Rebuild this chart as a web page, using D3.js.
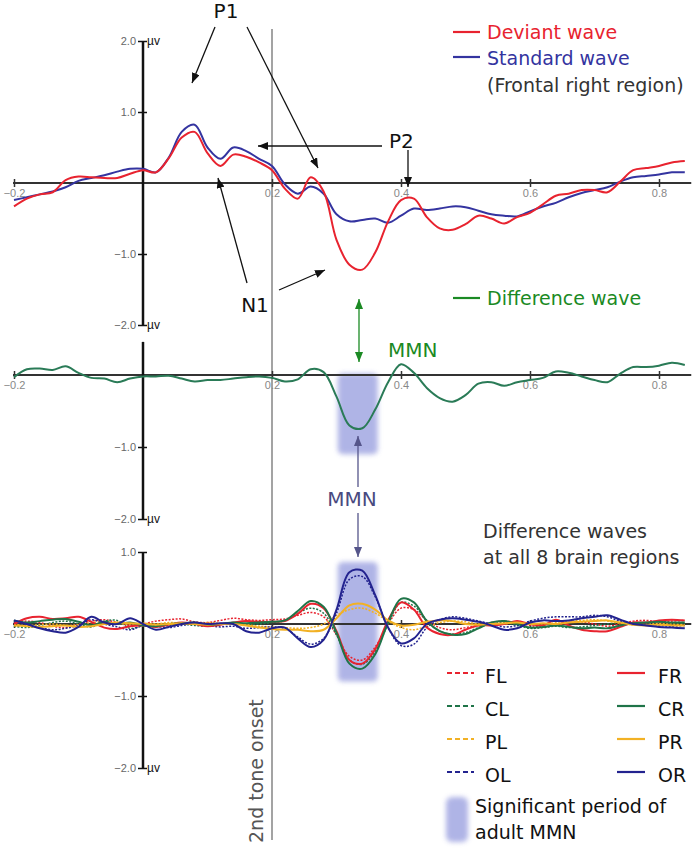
<!DOCTYPE html>
<html>
<head>
<meta charset="utf-8">
<script src="https://cdn.jsdelivr.net/npm/d3@7"></script>
<style>
body { margin: 0; background: #fff; }
</style>
</head>
<body>
<div id="chart"></div>
<script>
// time points (s), shared by every wave
const times = [-0.20,-0.18,-0.16,-0.14,-0.12,-0.10,-0.08,-0.06,-0.04,-0.02,
  0.00,0.02,0.04,0.06,0.08,0.10,0.12,0.14,0.16,0.18,
  0.20,0.22,0.24,0.26,0.28,0.30,0.32,0.34,0.36,0.38,
  0.40,0.42,0.44,0.46,0.48,0.50,0.52,0.54,0.56,0.58,
  0.60,0.62,0.64,0.66,0.68,0.70,0.72,0.74,0.76,0.78,
  0.80,0.82,0.84];

// top panel: frontal right region (µV)
const deviantWave = [-0.33,-0.22,-0.16,-0.13,0.04,0.09,0.08,0.07,0.07,0.13,
  0.18,0.15,0.35,0.64,0.72,0.42,0.24,0.40,0.37,0.29,
  0.18,-0.08,-0.22,0.08,-0.12,-0.80,-1.15,-1.22,-0.98,-0.54,
  -0.24,-0.22,-0.48,-0.64,-0.66,-0.58,-0.46,-0.50,-0.57,-0.48,
  -0.42,-0.30,-0.18,-0.15,-0.10,-0.10,-0.13,0.02,0.18,0.21,
  0.24,0.29,0.31];
const standardWave = [-0.24,-0.20,-0.16,-0.12,-0.06,0.03,0.07,0.11,0.16,0.20,
  0.20,0.15,0.36,0.72,0.82,0.50,0.34,0.50,0.45,0.34,
  0.24,-0.02,-0.15,-0.05,-0.15,-0.44,-0.54,-0.52,-0.50,-0.56,
  -0.46,-0.36,-0.38,-0.36,-0.33,-0.34,-0.39,-0.44,-0.46,-0.47,
  -0.40,-0.33,-0.28,-0.20,-0.14,-0.10,-0.06,0.02,0.08,0.10,
  0.12,0.15,0.15];

// middle panel
const differenceWave = [-0.03,0.08,0.09,0.07,0.12,0.03,-0.04,-0.05,-0.10,-0.05,
  -0.02,-0.02,-0.01,-0.05,-0.09,-0.07,-0.07,-0.05,-0.03,-0.02,
  -0.04,-0.09,-0.06,0.08,0.04,-0.30,-0.70,-0.74,-0.48,-0.10,
  0.15,0.03,-0.18,-0.32,-0.37,-0.28,-0.12,-0.10,-0.15,-0.10,
  -0.07,-0.04,0.05,0.03,-0.02,-0.07,-0.10,0.02,0.11,0.11,
  0.13,0.17,0.14];

// bottom panel: difference waves of the 8 regions
const regionFR = [0.00,0.08,0.10,0.07,0.08,0.10,0.03,-0.05,-0.07,-0.03,
  -0.02,-0.04,-0.01,0.02,0.00,-0.03,-0.01,0.02,0.04,0.03,
  0.03,0.04,0.14,0.28,0.22,-0.10,-0.50,-0.55,-0.35,0.05,
  0.30,0.20,-0.05,-0.14,-0.15,-0.08,-0.02,-0.02,0.00,0.04,
  0.00,-0.02,0.06,-0.02,-0.08,-0.10,-0.10,-0.04,0.02,0.02,
  0.05,0.06,0.05];
const regionCR = [0.05,0.02,0.04,0.06,0.07,0.03,-0.02,0.03,0.00,0.02,
  -0.02,-0.03,0.00,0.01,0.02,-0.01,0.00,0.02,0.01,0.02,
  0.03,0.05,0.18,0.32,0.24,-0.12,-0.55,-0.62,-0.42,0.02,
  0.35,0.30,0.04,-0.10,-0.15,-0.14,-0.06,0.02,0.04,0.00,
  -0.05,-0.04,-0.02,-0.04,-0.06,-0.05,-0.06,-0.02,0.01,0.02,
  0.03,0.02,0.02];
const regionPR = [-0.02,-0.03,-0.04,-0.03,-0.02,-0.04,-0.03,0.00,0.02,0.01,
  0.00,-0.01,0.00,0.01,0.00,-0.01,0.00,0.00,-0.02,-0.05,
  -0.07,-0.08,-0.08,-0.10,-0.08,0.08,0.26,0.28,0.20,0.05,
  -0.02,-0.01,0.03,0.05,0.04,0.00,-0.01,0.00,0.01,0.02,
  0.00,0.01,0.00,0.02,0.03,0.04,0.05,0.02,-0.01,-0.02,
  -0.01,-0.02,-0.02];
const regionOR = [0.05,0.00,-0.06,-0.10,-0.12,-0.04,0.10,0.02,0.00,0.08,
  0.00,-0.08,-0.04,0.00,0.02,0.00,0.01,0.00,-0.10,-0.12,
  -0.06,-0.05,-0.20,-0.32,-0.22,0.20,0.72,0.74,0.40,-0.05,
  -0.27,-0.20,0.00,0.06,0.08,0.06,0.03,-0.02,-0.08,-0.06,
  0.02,0.05,0.04,0.05,0.08,0.10,0.12,0.06,0.00,-0.02,
  -0.04,-0.05,-0.06];
const regionFL = [0.02,0.04,0.02,-0.03,-0.05,0.00,0.04,0.06,0.02,-0.02,
  0.00,0.04,0.06,0.07,0.03,0.02,0.05,0.08,0.06,0.05,
  0.06,0.07,0.12,0.16,0.10,-0.15,-0.45,-0.50,-0.32,0.00,
  0.22,0.20,0.05,-0.05,-0.08,-0.05,-0.02,0.02,0.04,0.02,
  -0.02,-0.04,-0.02,0.02,0.03,0.00,-0.03,0.00,0.04,0.05,
  0.03,0.04,0.05];
const regionCL = [-0.03,-0.05,-0.02,0.02,0.04,0.00,-0.04,0.04,0.05,-0.06,
  -0.03,-0.04,-0.02,0.00,-0.02,-0.03,0.00,0.01,-0.01,0.00,
  0.02,0.05,0.15,0.22,0.15,-0.15,-0.50,-0.56,-0.38,0.00,
  0.30,0.25,0.05,-0.10,-0.14,-0.12,-0.05,0.00,0.02,-0.02,
  -0.06,-0.05,-0.03,-0.05,-0.04,-0.02,0.00,0.02,0.00,-0.01,
  0.00,0.01,0.00];
const regionPL = [0.00,-0.02,-0.01,0.00,-0.02,-0.01,0.02,0.03,0.00,0.00,
  0.01,0.00,0.02,0.01,0.00,0.02,0.01,0.00,-0.01,-0.03,
  -0.04,-0.05,-0.06,-0.05,0.00,0.12,0.20,0.22,0.15,0.04,
  -0.05,-0.08,-0.03,0.02,0.04,0.03,0.00,-0.02,0.00,0.02,
  0.01,0.00,0.02,0.04,0.05,0.06,0.04,0.01,-0.01,0.00,
  0.01,0.00,-0.01];
const regionOL = [0.03,-0.02,-0.05,-0.08,-0.06,-0.02,0.06,0.00,-0.04,-0.08,
  -0.02,-0.03,-0.05,-0.02,0.00,-0.02,-0.04,-0.03,-0.06,-0.05,
  -0.04,-0.06,-0.18,-0.28,-0.20,0.15,0.62,0.66,0.38,-0.05,
  -0.30,-0.28,-0.05,0.06,0.10,0.08,0.04,0.00,-0.04,-0.02,
  0.04,0.08,0.10,0.10,0.10,0.12,0.10,0.04,0.00,0.00,
  -0.02,-0.03,-0.02];

const regionNames = ["FL", "CL", "PL", "OL", "FR", "CR", "PR", "OR"];
const regionValues = [regionFL, regionCL, regionPL, regionOL, regionFR, regionCR, regionPR, regionOR];
const xTickValues = [-0.2, 0.2, 0.4, 0.6, 0.8];
const onsetTime = 0.2;
const mmnPeriod = [0.302, 0.364];

const red = "#e8232f", blue = "#3434a0", green = "#2a7b57", brightGreen = "#1b8a24";
const regionColor = { F: "#e8232f", C: "#1f7448", P: "#f2b124", O: "#23238f" };
const font = "'DejaVu Sans', sans-serif";
const tickFont = "'Liberation Sans', Arial, sans-serif";

const width = 700, height = 853;

const svg = d3.select("#chart")
    .append("svg")
    .attr("width", width)
    .attr("height", height)
    .style("background", "#fff");

const defs = svg.append("defs");
defs.append("filter").attr("id", "soft")
    .attr("x", "-30%").attr("y", "-30%").attr("width", "160%").attr("height", "160%")
    .append("feGaussianBlur").attr("stdDeviation", 2.5);

function addMarker(id, color) {
    defs.append("marker")
        .attr("id", id)
        .attr("viewBox", "0 0 10 8")
        .attr("refX", 10).attr("refY", 4)
        .attr("markerWidth", 10).attr("markerHeight", 8)
        .attr("markerUnits", "userSpaceOnUse")
        .attr("orient", "auto-start-reverse")
        .append("path")
        .attr("d", "M0,0 L10,4 L0,8 Z")
        .attr("fill", color);
}
addMarker("arrowBlack", "#111");
addMarker("arrowGreen", brightGreen);
addMarker("arrowPurple", "#55558a");

const x = d3.scaleLinear().domain([-0.2, 0.85]).range([14, 691.25]);
const yTop = d3.scaleLinear().domain([-2, 2]).range([325, 41]);
const yMid = d3.scaleLinear().domain([-2, 0]).range([519, 375]);
const yBot = d3.scaleLinear().domain([-2, 1]).range([768, 552]);

const line = (ys, values) => d3.line()
    .x((d, i) => x(times[i]))
    .y(d => ys(d))
    .curve(d3.curveCatmullRom.alpha(0.5))(values);

// 2nd tone onset line
svg.append("line")
    .attr("x1", x(onsetTime)).attr("x2", x(onsetTime))
    .attr("y1", 29).attr("y2", 840)
    .attr("stroke", "#666").attr("stroke-width", 1.2);

svg.append("text")
    .attr("transform", `translate(${x(onsetTime) - 9},843) rotate(-90)`)
    .attr("font-family", font).attr("font-size", 19)
    .attr("fill", "#555")
    .text("2nd tone onset");

// significant MMN period bands
[[yMid, 0.02, -1.1], [yBot, 0.86, -0.8]].forEach(([ys, top, bottom]) => {
    svg.append("rect")
        .attr("x", x(mmnPeriod[0])).attr("width", x(mmnPeriod[1]) - x(mmnPeriod[0]))
        .attr("y", ys(top)).attr("height", ys(bottom) - ys(top))
        .attr("rx", 5)
        .attr("fill", "#a2a7e2").attr("opacity", 0.85)
        .attr("filter", "url(#soft)");
});

function drawAxes(ys, yTicks, unitTicks, yTopVal) {
    // horizontal time axis through zero
    const gx = svg.append("g")
        .attr("transform", `translate(0,${ys(0)})`)
        .call(d3.axisBottom(x).tickValues(xTickValues).tickSize(4).tickFormat(d3.format(".1f")));
    gx.select(".domain").remove();
    gx.selectAll(".tick line").attr("y1", -4).attr("stroke", "#333").attr("stroke-width", 1.5);
    gx.selectAll(".tick text")
        .attr("font-family", tickFont).attr("font-size", 11)
        .attr("fill", "#888").attr("y", 6);
    svg.append("line")
        .attr("x1", x(-0.2) - 1).attr("x2", x(0.85))
        .attr("y1", ys(0)).attr("y2", ys(0))
        .attr("stroke", "#333").attr("stroke-width", 2);

    // vertical µV axis
    const gy = svg.append("g")
        .attr("transform", `translate(${x(0)},0)`)
        .call(d3.axisLeft(ys).tickValues(yTicks).tickSize(5).tickFormat(d3.format(".1f")));
    gy.select(".domain").remove();
    gy.selectAll(".tick line").attr("x1", 4).attr("stroke", "#111").attr("stroke-width", 1.5);
    gy.selectAll(".tick text")
        .attr("font-family", tickFont).attr("font-size", 11)
        .attr("fill", "#666").attr("x", -7);
    svg.append("line")
        .attr("x1", x(0)).attr("x2", x(0))
        .attr("y1", ys(yTopVal)).attr("y2", ys(-2))
        .attr("stroke", "#111").attr("stroke-width", 2.5);
    unitTicks.forEach(v => {
        svg.append("text")
            .attr("x", x(0) + 4).attr("y", ys(v) + 4)
            .attr("font-family", tickFont).attr("font-size", 12)
            .attr("fill", "#111")
            .text("µv");
    });
}

drawAxes(yTop, [2, 1, -1, -2], [2, -2], 2);
drawAxes(yMid, [-1, -2], [-2], 0.46);
drawAxes(yBot, [1, -1, -2], [-2], 1);

// top waves
svg.append("path").attr("d", line(yTop, standardWave))
    .attr("fill", "none").attr("stroke", blue).attr("stroke-width", 2);
svg.append("path").attr("d", line(yTop, deviantWave))
    .attr("fill", "none").attr("stroke", red).attr("stroke-width", 2);

// difference wave
svg.append("path").attr("d", line(yMid, differenceWave))
    .attr("fill", "none").attr("stroke", green).attr("stroke-width", 2);

// 8 regions
regionNames.forEach((name, k) => {
    const dotted = name[1] === "L";
    svg.append("path").attr("d", line(yBot, regionValues[k]))
        .attr("fill", "none")
        .attr("stroke", regionColor[name[0]])
        .attr("stroke-width", dotted ? 1.5 : 2)
        .attr("stroke-dasharray", dotted ? "2,1.5" : null);
});

// legends
function legendLine(x1, x2, y, color, dash) {
    svg.append("line")
        .attr("x1", x1).attr("x2", x2).attr("y1", y).attr("y2", y)
        .attr("stroke", color).attr("stroke-width", 2.2)
        .attr("stroke-dasharray", dash || null);
}
function label(tx, ty, txt, color, size, anchor) {
    svg.append("text")
        .attr("x", tx).attr("y", ty)
        .attr("font-family", font).attr("font-size", size || 19)
        .attr("fill", color || "#111")
        .attr("text-anchor", anchor || "start")
        .text(txt);
}

legendLine(453, 480, 32, red);
label(487, 39, "Deviant wave", red);
legendLine(453, 480, 57, blue);
label(487, 65, "Standard wave", blue);
label(487, 92, "(Frontal right region)", "#333");

legendLine(453, 480, 298, brightGreen);
label(487, 305, "Difference wave", brightGreen);

label(483, 538, "Difference waves", "#333");
label(483, 564, "at all 8 brain regions", "#333");

["F", "C", "P", "O"].forEach((r, i) => {
    const ly = 673 + i * 33;
    legendLine(447, 474, ly, regionColor[r], "5,3");
    label(485, ly + 10, r + "L", "#111");
    legendLine(617, 645, ly, regionColor[r]);
    label(658, ly + 10, r + "R", "#111");
});

svg.append("rect")
    .attr("x", 446).attr("y", 797).attr("width", 22).attr("height", 45)
    .attr("rx", 6)
    .attr("fill", "#a2a7e2").attr("opacity", 0.85)
    .attr("filter", "url(#soft)");
label(475, 813, "Significant period of", "#111");
label(475, 839, "adult MMN", "#111");

// annotations
function arrow(x1, y1, x2, y2, marker, color, both) {
    svg.append("line")
        .attr("x1", x1).attr("y1", y1).attr("x2", x2).attr("y2", y2)
        .attr("stroke", color || "#111").attr("stroke-width", 1.3)
        .attr("marker-end", `url(#${marker})`)
        .attr("marker-start", both ? `url(#${marker})` : null);
}

label(226, 18, "P1", "#111", 20, "middle");
arrow(215, 27, 192, 83, "arrowBlack");
arrow(247, 27, 318, 168, "arrowBlack");

label(389, 148, "P2", "#111", 20);
arrow(382, 146, 258, 146, "arrowBlack");
arrow(408, 150, 408, 187, "arrowBlack");

label(255, 312, "N1", "#111", 20, "middle");
arrow(247, 283, 218, 178, "arrowBlack");
arrow(279, 290, 325, 270, "arrowBlack");

arrow(359, 299, 359, 362, "arrowGreen", brightGreen, true);
label(388, 357, "MMN", brightGreen, 20);

label(352, 506, "MMN", "#4a4a80", 20, "middle");
arrow(358, 487, 358, 436, "arrowPurple", "#55558a");
arrow(358, 513, 358, 557, "arrowPurple", "#55558a");
</script>
</body>
</html>
